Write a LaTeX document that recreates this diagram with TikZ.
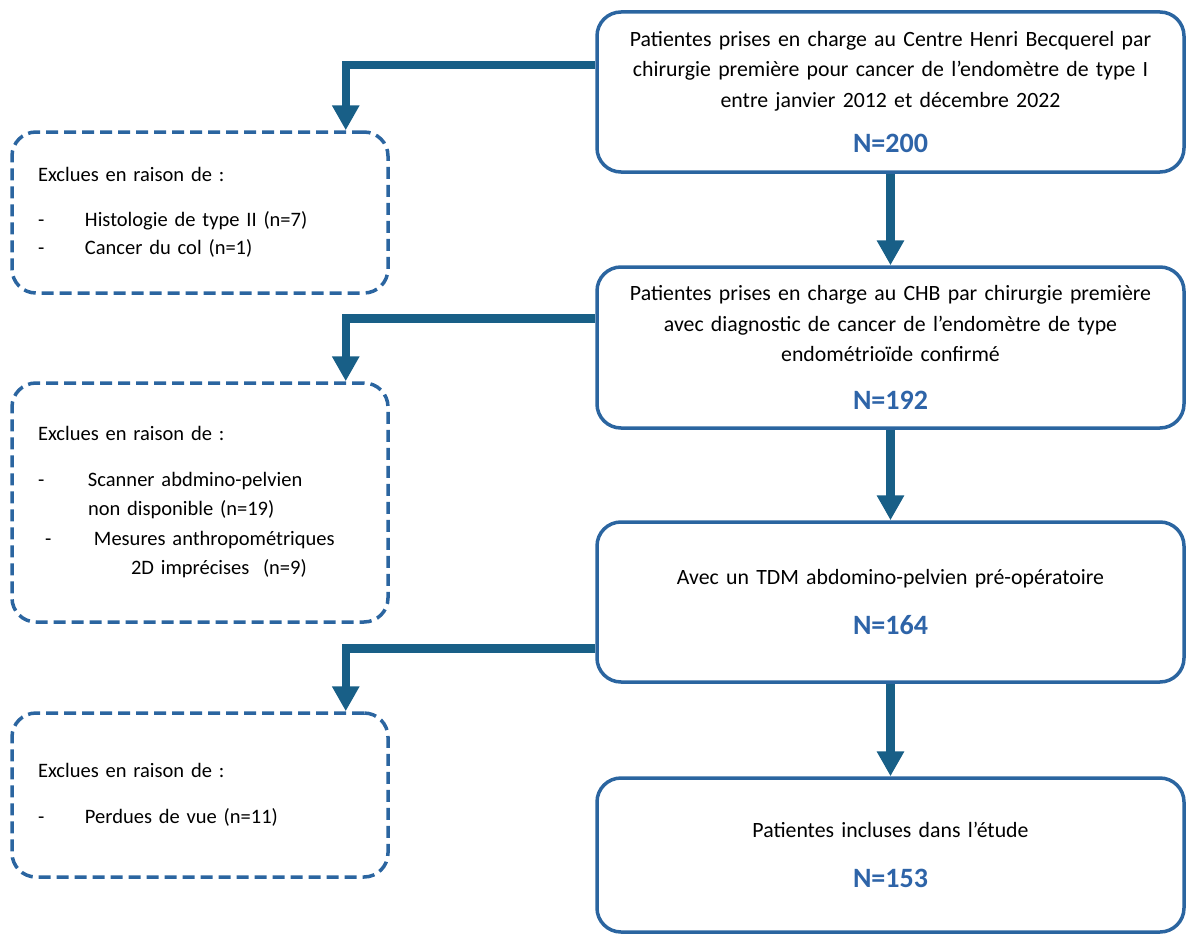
\documentclass[tikz,border=0pt]{standalone}
\usepackage{fontspec}
\setmainfont{Carlito}
\usepackage{tikz}
\usetikzlibrary{arrows.meta,positioning}
\usepackage{xcolor}

\definecolor{boxblue}{RGB}{43,101,160}
\definecolor{arrowblue}{RGB}{24,95,135}
\definecolor{numblue}{RGB}{46,100,168}

\tikzset{
  stagebox/.style={draw=boxblue, line width=3.5pt, rounded corners=24pt,
    minimum width=587pt, text width=570pt, align=center,
    font=\fontsize{21.8}{30.5}\selectfont},
  exclbox/.style={draw=boxblue, line width=3.5pt, dash pattern=on 12pt off 6pt,
    rounded corners=24pt, minimum width=376pt, inner xsep=26pt, text width=324pt,
    align=left, font=\fontsize{20.5}{29.5}\selectfont},
  flow/.style={draw=arrowblue, line width=8.5pt, -{Triangle[width=26pt,length=25pt]}},
}
\newcommand{\effectif}[1]{{\fontsize{28}{34}\selectfont\bfseries\color{numblue}N=#1}}

\begin{document}
\begin{tikzpicture}[x=1pt,y=-1pt]
		\useasboundingbox (0,0) rectangle (1186,934);

		% Main stages
		\node[stagebox, minimum height=160pt] (eligibles) at (890.5,92)
		{Patientes prises en charge au Centre Henri Becquerel par\\
		 chirurgie première pour cancer de l’endomètre de type I\\
		 entre janvier 2012 et décembre 2022\\[15pt]
		 \effectif{200}};
		\node[stagebox, minimum height=161pt] (confirmees) at (890.5,347.5)
		{Patientes prises en charge au CHB par chirurgie première\\
		 avec diagnostic de cancer de l’endomètre de type\\
		 endométrioïde confirmé\\[17pt]
		 \effectif{192}};
		\node[stagebox, minimum height=160pt] (tdm) at (890.5,602)
		{Avec un TDM abdomino-pelvien pré-opératoire\\[19pt]
		 \effectif{164}};
		\node[stagebox, minimum height=154pt] (incluses) at (890.5,855)
		{Patientes incluses dans l’étude\\[20pt]
		 \effectif{153}};

		% Exclusions
		\node[exclbox, minimum height=161pt] (exclHisto) at (200,212.5)
		{Exclues en raison de :\\[16pt]
		 \makebox[47pt][l]{-}Histologie de type II (n=7)\\[-1.5pt]
		 \makebox[47pt][l]{-}Cancer du col (n=1)};
		\node[exclbox, minimum height=239pt] (exclScanner) at (200,502.5)
		{Exclues en raison de :\\[16pt]
		 \makebox[50pt][l]{-}Scanner abdmino-pelvien\\
		 \hspace*{50pt}non disponible (n=19)\\
		 \hspace*{7pt}\makebox[49pt][l]{-}Mesures anthropométriques\\
		 \hspace*{93pt}2D imprécises~~(n=9)};
		\node[exclbox, minimum height=164pt] (exclPerdues) at (200,795)
		{Exclues en raison de :\\[16pt]
		 \makebox[47pt][l]{-}Perdues de vue (n=11)};

		% Arrows down the main column
		\draw[flow] (eligibles) -- (confirmees);
		\draw[flow] (confirmees) -- (tdm);
		\draw[flow] (tdm) -- (incluses);

		% Arrows to the exclusions
		\draw[flow] ([yshift=-55pt]eligibles.north west) -| ([xshift=-44pt]exclHisto.north east);
		\draw[flow] ([yshift=-53pt]confirmees.north west) -| ([xshift=-44pt]exclScanner.north east);
		\draw[flow] ([yshift=-128pt]tdm.north west) -| ([xshift=-44pt]exclPerdues.north east);
	\end{tikzpicture}
\end{document}
